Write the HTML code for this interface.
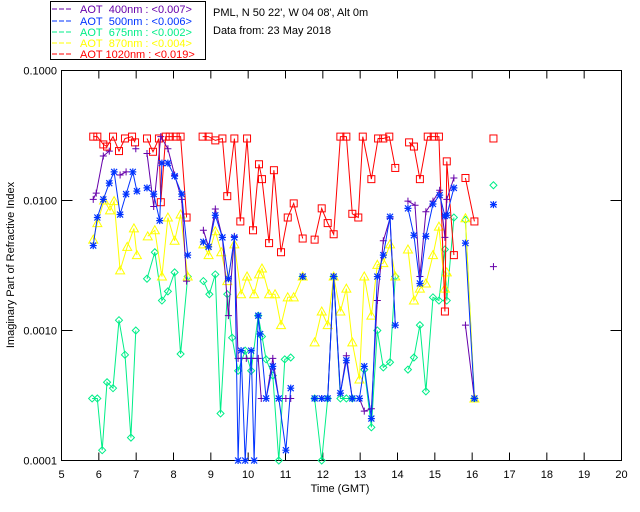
<!DOCTYPE html>
<html><head><meta charset="utf-8"><style>
html,body{margin:0;padding:0;background:#fff;}
svg{display:block;font-family:"Liberation Sans",sans-serif;}
</style></head><body>
<svg id="chart" width="640" height="512" viewBox="0 0 640 512">
<rect x="0" y="0" width="640" height="512" fill="#fff"/>
<g>
<rect x="50.5" y="1.5" width="155" height="58" fill="none" stroke="#000" stroke-width="1"/>
<g font-size="11">
<line x1="52" y1="9" x2="73" y2="9" stroke="#6600aa" stroke-dasharray="5,2"/><text x="80" y="13" fill="#6600aa">AOT&#160;&#160;400nm : &lt;0.007&gt;</text>
<line x1="52" y1="21" x2="73" y2="21" stroke="#0033ff" stroke-dasharray="5,2"/><text x="80" y="25" fill="#0033ff">AOT&#160;&#160;500nm : &lt;0.006&gt;</text>
<line x1="52" y1="32" x2="73" y2="32" stroke="#00ee88" stroke-dasharray="5,2"/><text x="80" y="36" fill="#00ee88">AOT&#160;&#160;675nm : &lt;0.002&gt;</text>
<line x1="52" y1="43" x2="73" y2="43" stroke="#ffff00" stroke-dasharray="5,2"/><text x="80" y="47" fill="#ffff00">AOT&#160;&#160;870nm : &lt;0.004&gt;</text>
<line x1="52" y1="54" x2="73" y2="54" stroke="#ff0000" stroke-dasharray="5,2"/><text x="80" y="58" fill="#ff0000">AOT 1020nm : &lt;0.019&gt;</text>
</g></g>
<text x="213" y="16" font-size="11">PML, N 50 22', W 04 08', Alt 0m</text>
<text x="213" y="34" font-size="11">Data from: 23 May 2018</text>
<rect x="61.5" y="70.5" width="560" height="390" fill="none" stroke="#000"/>
<g id="axes"></g>
<g id="series"></g>
<text x="340" y="492" font-size="11" text-anchor="middle">Time (GMT)</text>
<text transform="translate(14,265) rotate(-90)" font-size="11" text-anchor="middle">Imaginary Part of Refractive Index</text>
</svg>
<script>
const xTicks=[5,6,7,8,9,10,11,12,13,14,15,16,17,18,19,20];
const yTicks=[0.1,0.01,0.001,0.0001];
const yTickLabels=["0.1000","0.0100","0.0010","0.0001"];
const tRed=[5.85,5.96,6.12,6.22,6.38,6.54,6.70,6.89,6.97,7.29,7.45,7.61,7.66,7.79,7.90,8.06,8.19,8.35,8.78,8.94,9.12,9.31,9.44,9.63,9.79,9.97,10.13,10.29,10.37,10.56,10.69,10.88,11.06,11.22,11.46,11.78,11.97,12.13,12.29,12.47,12.63,12.79,12.95,13.07,13.30,13.48,13.62,13.78,13.94,14.31,14.44,14.60,14.81,14.97,15.11,15.27,15.32,15.51,15.82,16.06,16.57];
const vRed=[.031,.031,.027,.026,.031,.024,.030,.031,.028,.030,.0237,.030,.0097,.031,.031,.031,.031,.0074,.031,.031,.029,.030,.0108,.030,.0069,.030,.0059,.019,.0146,.0047,.0171,.0040,.0074,.0095,.0051,.0050,.0087,.0067,.0055,.031,.031,.0079,.0074,.031,.0146,.030,.030,.031,.0178,.028,.026,.0146,.031,.031,.031,.0014,.020,.0038,.0149,.0069,.030];
const tPurple=[5.85,5.93,6.12,6.28,6.57,6.73,6.99,7.29,7.47,7.66,7.85,8.03,8.22,8.35,8.80,8.94,9.12,9.31,9.47,9.63,9.73,9.95,10.08,10.27,10.35,10.48,10.66,10.82,11.01,11.14,11.46,11.78,11.97,12.13,12.29,12.47,12.63,12.79,12.98,13.11,13.30,13.46,13.62,13.80,13.94,14.28,14.47,14.60,14.76,14.95,15.13,15.27,15.32,15.51,15.82,16.06,16.57];
const vPurple=[.0102,.0114,.022,.024,.0157,.0166,.025,.023,.0090,.031,.025,.0157,.0102,.0024,.0059,.0044,.0086,.0052,.0013,.0053,.00061,.00061,.00061,.00061,.0003,.0003,.00061,.0003,.0003,.0003,.0026,.0003,.0003,.0003,.0026,.00033,.00064,.0003,.0003,.00024,.00025,.0017,.0049,.0073,.0011,.0099,.0092,.0026,.0082,.0099,.012,.0052,.0102,.0149,.0011,.0003,.0031];
const tBlue=[5.85,5.96,6.12,6.28,6.41,6.57,6.73,6.91,7.02,7.29,7.47,7.63,7.69,7.85,8.03,8.22,8.38,8.80,8.94,9.12,9.31,9.47,9.63,9.73,9.81,9.92,10.08,10.16,10.27,10.32,10.48,10.66,10.82,11.01,11.14,11.46,11.78,11.97,12.13,12.29,12.47,12.63,12.79,12.98,13.11,13.30,13.46,13.62,13.80,13.94,14.28,14.44,14.60,14.76,14.95,15.13,15.27,15.32,15.51,15.82,16.06,16.57];
const vBlue=[.0045,.0074,.0102,.0136,.0166,.0078,.0112,.0166,.0118,.0125,.0112,.0070,.0194,.0194,.0154,.0112,.0038,.0048,.0044,.0077,.0052,.0025,.0052,.0001,.0007,.0001,.0007,.0001,.0013,.00094,.0003,.00053,.0003,.00012,.00036,.0026,.0003,.0003,.0003,.0026,.00033,.00059,.0003,.0003,.00053,.00021,.0026,.0038,.0075,.0011,.0087,.0054,.0023,.0053,.0094,.011,.0076,.0077,.0125,.0047,.0003,.0093];
const tYellow=[5.85,5.96,6.14,6.30,6.41,6.57,6.76,6.94,7.02,7.31,7.50,7.69,7.85,8.03,8.19,8.38,8.80,8.94,9.12,9.28,9.44,9.63,9.81,9.97,10.16,10.29,10.37,10.56,10.72,10.88,11.06,11.22,11.46,11.78,11.97,12.13,12.29,12.47,12.63,12.79,12.98,13.11,13.30,13.46,13.62,13.80,13.94,14.28,14.44,14.60,14.76,14.95,15.11,15.27,15.32,15.82,16.06];
const vYellow=[.0050,.0067,.0100,.0084,.0099,.0029,.0044,.0061,.0038,.0053,.0059,.0026,.0074,.0049,.0078,.0026,.0046,.0038,.0058,.0040,.0024,.0046,.0019,.0026,.0019,.0027,.0030,.0019,.0019,.0011,.0018,.0018,.0026,.00081,.0014,.0011,.0026,.0014,.0021,.00081,.00042,.0026,.0013,.0032,.0033,.0046,.0026,.0042,.0017,.0021,.0023,.0038,.0063,.0021,.0028,.0073,.0003];
const tGreen=[5.82,5.96,6.09,6.22,6.38,6.54,6.70,6.86,6.99,7.29,7.50,7.69,7.85,8.03,8.19,8.38,8.80,8.96,9.12,9.26,9.44,9.57,9.73,9.92,10.08,10.27,10.37,10.48,10.66,10.82,10.98,11.14,11.46,11.78,11.97,12.13,12.29,12.47,12.63,12.79,13.11,13.30,13.46,13.62,13.80,13.94,14.28,14.44,14.60,14.76,14.95,15.11,15.27,15.32,15.51,15.82,16.06,16.57];
const vGreen=[.0003,.0003,.00012,.0004,.00036,.0012,.00065,.00015,.0010,.0025,.0040,.0017,.0020,.0028,.00066,.0026,.0024,.0019,.0027,.00023,.0019,.00088,.00049,.0007,.00049,.0013,.0009,.0006,.00045,.0001,.0006,.00062,.0026,.0003,.0001,.0003,.0026,.0003,.0003,.0003,.0005,.00018,.0010,.00052,.00057,.0026,.0005,.00062,.0011,.00034,.0018,.0017,.0042,.0017,.0074,.0071,.0003,.0131];

const NS='http://www.w3.org/2000/svg';
const X0=61.5,X1=621.5,Y0=70.5,Y1=460.5;
function xs(t){return X0+(t-5)/15*(X1-X0);}
function ys(v){return Y0+(-1-Math.log10(v))/3*(Y1-Y0);}
function mk(tag,attrs,parent){const e=document.createElementNS(NS,tag);for(const k in attrs)e.setAttribute(k,attrs[k]);parent.appendChild(e);return e;}
const axes=document.getElementById('axes');
xTicks.forEach(function(t){
  const x=xs(t);
  if(t>5&&t<20){
    const a=mk('line',{x1:x,y1:Y1,x2:x,y2:Y1-8,stroke:'#000'},axes);
    
    
    const b=mk('line',{x1:x,y1:Y0,x2:x,y2:Y0+8,stroke:'#000'},axes);
    
    
  }
  const l=mk('text',{x:x,y:478,'font-size':11,'text-anchor':'middle'},axes);
  l.textContent=String(t);
  
  
});
yTicks.forEach(function(v,i){
  const y=ys(v);
  if(i>0&&i<yTicks.length-1){
    const a=mk('line',{x1:X0,y1:y,x2:X0+11,y2:y,stroke:'#000'},axes);
    
    
    const b=mk('line',{x1:X1,y1:y,x2:X1-11,y2:y,stroke:'#000'},axes);
    
    
  }
  const l=mk('text',{x:57,y:y+4,'font-size':11,'text-anchor':'end'},axes);
  l.textContent=yTickLabels[i];
  
  
});
const ser=document.getElementById('series');
function marker(g,kind,x,y,c){
  const s=3.5;
  if(kind==='square'){mk('rect',{x:x-s,y:y-s,width:2*s,height:2*s,fill:'none',stroke:c},g);}
  else if(kind==='plus'){mk('path',{d:`M${x-s} ${y}H${x+s}M${x} ${y-s}V${y+s}`,stroke:c,fill:'none'},g);}
  else if(kind==='star'){mk('path',{d:`M${x-s} ${y}H${x+s}M${x} ${y-s}V${y+s}M${x-3} ${y-3}L${x+3} ${y+3}M${x-3} ${y+3}L${x+3} ${y-3}`,stroke:c,fill:'none','stroke-width':1.2},g);}
  else if(kind==='diamond'){mk('path',{d:`M${x} ${y-s}L${x+s} ${y}L${x} ${y+s}L${x-s} ${y}Z`,stroke:c,fill:'none'},g);}
  else if(kind==='tri'){mk('path',{d:`M${x} ${y-s-1}L${x+s+1} ${y+s}L${x-s-1} ${y+s}Z`,stroke:c,fill:'none'},g);}
}
function drawSeries(name,ts,vs,color,kind){
  const g=mk('g',{},ser);
  
  
  let d='';
  for(let i=0;i<ts.length;i++){
    const x=xs(ts[i]),y=ys(vs[i]);
    if(i===0||ts[i]-ts[i-1]>0.25)d+=`M${x.toFixed(1)} ${y.toFixed(1)}`;else d+=`L${x.toFixed(1)} ${y.toFixed(1)}`;
  }
  const p=mk('path',{d:d,stroke:color,fill:'none','stroke-width':1},g);
  
  
  for(let i=0;i<ts.length;i++)marker(g,kind,xs(ts[i]),ys(vs[i]),color);
}
drawSeries('series-675nm',tGreen,vGreen,'#00ee88','diamond');
drawSeries('series-870nm',tYellow,vYellow,'#ffff00','tri');
drawSeries('series-1020nm',tRed,vRed,'#ff0000','square');
drawSeries('series-400nm',tPurple,vPurple,'#6600aa','plus');
drawSeries('series-500nm',tBlue,vBlue,'#0033ff','star');
</script>
</body></html>
